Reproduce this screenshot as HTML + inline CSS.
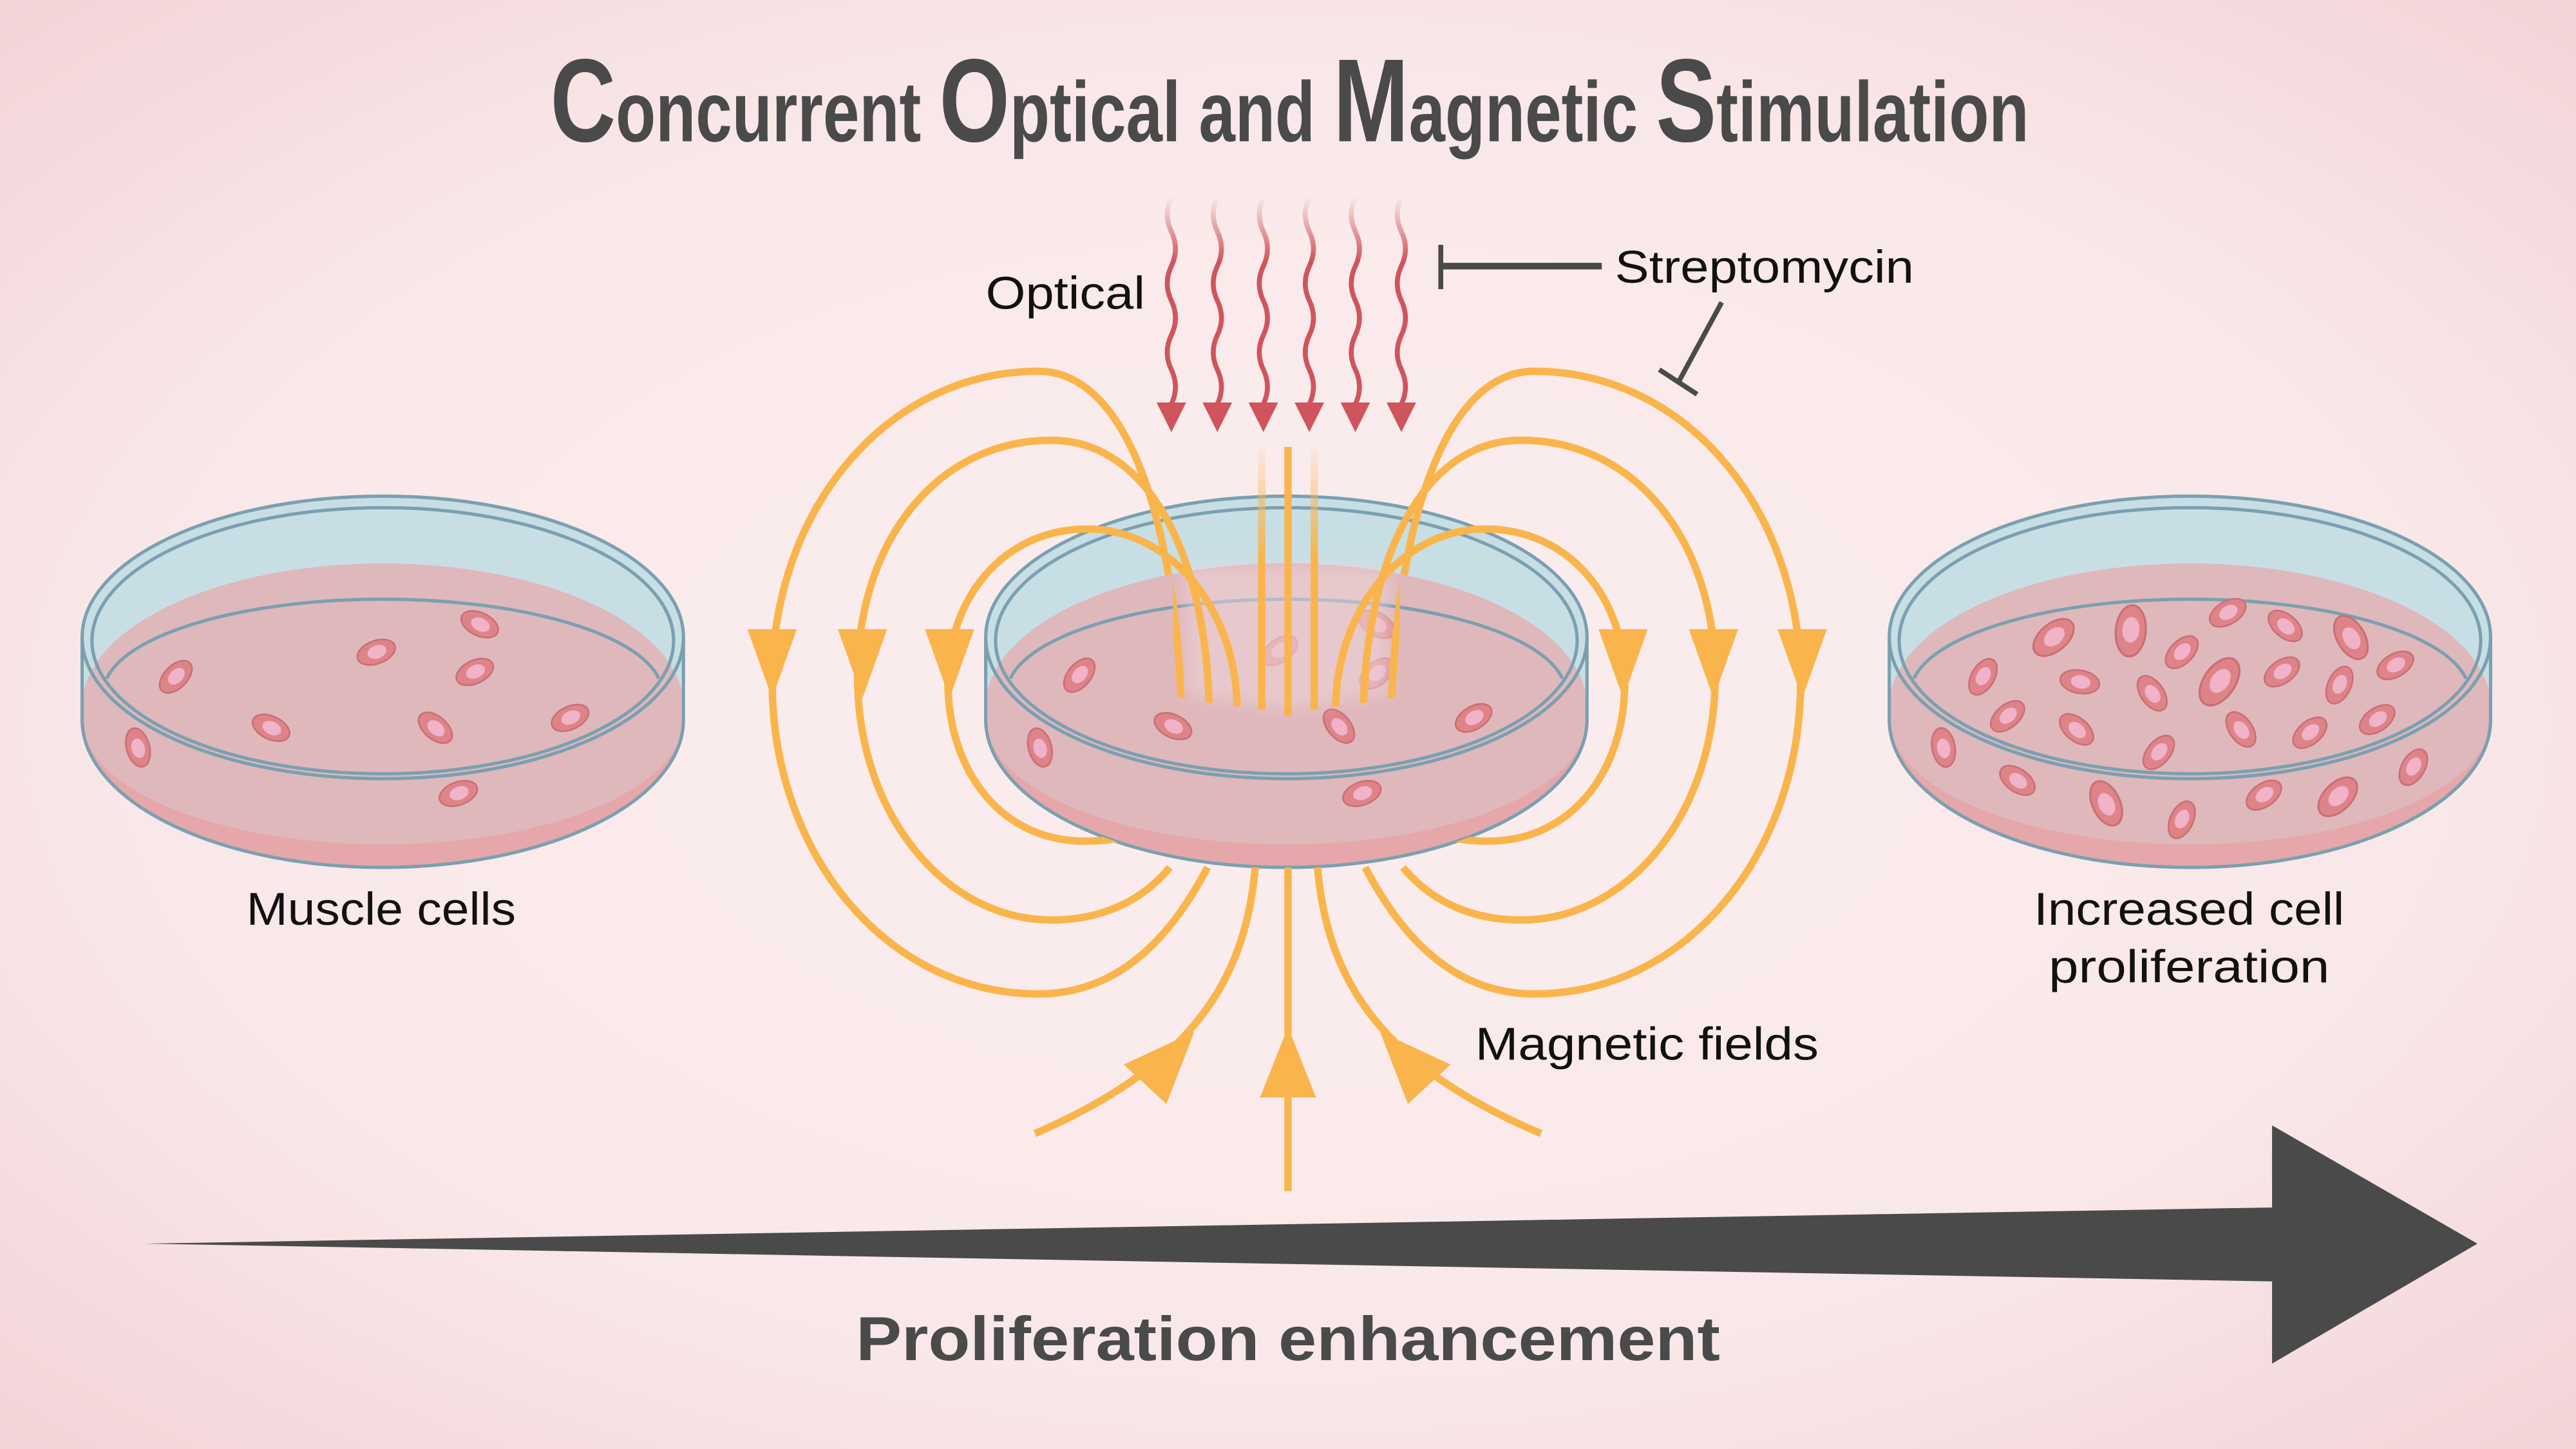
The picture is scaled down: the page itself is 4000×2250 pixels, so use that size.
<!DOCTYPE html>
<html><head><meta charset="utf-8"><style>html,body{margin:0;padding:0;}svg{display:block}</style></head>
<body>
<svg width="4000" height="2250" viewBox="0 0 1568 882" xmlns="http://www.w3.org/2000/svg" font-family="'Liberation Sans', 'DejaVu Sans', sans-serif">
<defs>
<radialGradient id="bg" cx="50%" cy="50%" r="75%">
<stop offset="0" stop-color="#fbeeee"/><stop offset="0.6" stop-color="#f9e8e9"/><stop offset="1" stop-color="#f1d0d4"/>
</radialGradient>
<linearGradient id="fade" gradientUnits="userSpaceOnUse" x1="0" y1="270" x2="0" y2="340">
<stop offset="0" stop-color="#f9b54c" stop-opacity="0"/><stop offset="1" stop-color="#f9b54c" stop-opacity="1"/>
</linearGradient>
<linearGradient id="rfade" x1="0" y1="0" x2="0" y2="1">
<stop offset="0" stop-color="#d0545c" stop-opacity="0"/><stop offset="0.3" stop-color="#d0545c" stop-opacity="1"/><stop offset="1" stop-color="#d0545c"/>
</linearGradient>
<filter id="blur"><feGaussianBlur stdDeviation="5"/></filter>
<g id="dish">
<path d="M-183,388 A183,86 0 0 1 183,388 L183,438 A183,90 0 0 1 -183,438 Z" fill="#c8dee5"/>
<path d="M-183,430 A183,87 0 0 1 183,430 L183,438 A183,90 0 0 1 -183,438 Z" fill="#e5a7aa"/>
<path d="M-183,430 A183,87 0 0 1 183,430 L183,438 A183,76 0 0 1 -183,438 Z" fill="#dfb8bc"/>
<ellipse cx="0" cy="388" rx="183" ry="86" fill="none" stroke="#7aa0b0" stroke-width="2"/>
<ellipse cx="0" cy="390" rx="177" ry="81" fill="none" stroke="#7aa0b0" stroke-width="2"/>
<path d="M-168,413 A170,57 0 0 1 168,413" fill="none" stroke="#7aa0b0" stroke-width="2"/>
<path d="M-183,388 L-183,438 A183,90 0 0 0 183,438 L183,388" fill="none" stroke="#7aa0b0" stroke-width="2"/>
</g>
<g id="cell"><ellipse rx="12" ry="7" fill="#de8488" stroke="#c96f75" stroke-width="1"/><ellipse cx="0.5" rx="6" ry="4" fill="#f0b3c8"/></g>
<mask id="m1" maskUnits="userSpaceOnUse" x="0" y="0" width="1568" height="882">
<rect x="0" y="0" width="1568" height="882" fill="white"/>
<path d="M600,430 A183,87 0 0 1 966,430 L966,438 A183,90 0 0 1 600,438 Z" fill="black"/>
<polygon points="714,300 852,300 852,424 783,436 714,424" fill="white"/>
</mask>
<g id="loopsL" fill="none" stroke="#f9b54c" stroke-width="4.5">
<path d="M719,430 C716,330 690,226 632,226 C540,226 470,310 470,415 C470,520 540,605 632,605 C680,605 712,572 735,528"/>
<path d="M736,430 C734,340 700,268 640,268 C570,268 522,330 522,412 C522,495 575,560 640,560 C675,560 698,545 712,528"/>
<path d="M753,430 C752,370 712,322 662,322 C610,322 577,365 577,415 C577,470 610,512 660,512 C675,512 685,510 695,505"/>
</g>
</defs>
<rect width="1568" height="882" fill="url(#bg)"/>

<text x="335" y="86" font-family="'Liberation Sans Narrow','Liberation Sans',sans-serif" font-weight="bold" fill="#4a4a4a" font-size="52" textLength="900" lengthAdjust="spacingAndGlyphs"><tspan font-size="72">C</tspan>oncurrent <tspan font-size="72">O</tspan>ptical and <tspan font-size="72">M</tspan>agnetic <tspan font-size="72">S</tspan>timulation</text>

<use href="#dish" transform="translate(233,0)"/>
<use href="#dish" transform="translate(783,0)"/>
<use href="#dish" transform="translate(1333,0)"/>

<use href="#cell" transform="translate(292,380) rotate(25)"/>
<use href="#cell" transform="translate(229,397) rotate(-20)"/>
<use href="#cell" transform="translate(107,412) rotate(-45)"/>
<use href="#cell" transform="translate(289,409) rotate(-25)"/>
<use href="#cell" transform="translate(165,443) rotate(25)"/>
<use href="#cell" transform="translate(265,443) rotate(40)"/>
<use href="#cell" transform="translate(347,437) rotate(-25)"/>
<use href="#cell" transform="translate(84,455) rotate(75)"/>
<use href="#cell" transform="translate(279,483) rotate(-20)"/>

<use href="#cell" transform="translate(657,411) rotate(-50)"/>
<use href="#cell" transform="translate(714,442) rotate(25)"/>
<use href="#cell" transform="translate(779,396) rotate(-35)" opacity="0.7"/>
<use href="#cell" transform="translate(838,380) rotate(30)" opacity="0.7"/>
<use href="#cell" transform="translate(838,410) rotate(-40)" opacity="0.7"/>
<use href="#cell" transform="translate(815,442) rotate(50)"/>
<use href="#cell" transform="translate(897,437) rotate(-30)"/>
<use href="#cell" transform="translate(633,455) rotate(75)"/>
<use href="#cell" transform="translate(829,483) rotate(-20)"/>
<g>
<use href="#cell" transform="translate(1250,388) rotate(-40) scale(1.2)"/>
<use href="#cell" transform="translate(1297,384) rotate(-85) scale(1.3)"/>
<use href="#cell" transform="translate(1356,373) rotate(-30)"/>
<use href="#cell" transform="translate(1391,381) rotate(40)"/>
<use href="#cell" transform="translate(1431,388) rotate(60) scale(1.2)"/>
<use href="#cell" transform="translate(1328,397) rotate(-45)"/>
<use href="#cell" transform="translate(1207,412) rotate(-60)"/>
<use href="#cell" transform="translate(1266,415) rotate(10)"/>
<use href="#cell" transform="translate(1310,422) rotate(55)"/>
<use href="#cell" transform="translate(1351,415) rotate(-55) scale(1.35)"/>
<use href="#cell" transform="translate(1389,409) rotate(-35)"/>
<use href="#cell" transform="translate(1424,417) rotate(-65)"/>
<use href="#cell" transform="translate(1458,405) rotate(-30)"/>
<use href="#cell" transform="translate(1222,436) rotate(-40)"/>
<use href="#cell" transform="translate(1264,444) rotate(40)"/>
<use href="#cell" transform="translate(1364,444) rotate(55)"/>
<use href="#cell" transform="translate(1406,446) rotate(-40)"/>
<use href="#cell" transform="translate(1447,438) rotate(-35)"/>
<use href="#cell" transform="translate(1183,455) rotate(80)"/>
<use href="#cell" transform="translate(1314,458) rotate(-50)"/>
<use href="#cell" transform="translate(1228,475) rotate(35)"/>
<use href="#cell" transform="translate(1282,489) rotate(65) scale(1.2)"/>
<use href="#cell" transform="translate(1328,499) rotate(-65)"/>
<use href="#cell" transform="translate(1378,484) rotate(-35)"/>
<use href="#cell" transform="translate(1423,485) rotate(-45) scale(1.2)"/>
<use href="#cell" transform="translate(1469,467) rotate(-60)"/>
</g>

<polygon points="722,345 845,345 845,422 783,432 722,422" fill="#efd9dc" opacity="0.5" filter="url(#blur)"/>

<g mask="url(#m1)">
<use href="#loopsL"/>
<use href="#loopsL" transform="translate(1566,0) scale(-1,1)"/>
<line x1="768" y1="270" x2="768" y2="432" stroke="url(#fade)" stroke-width="4.5"/>
<line x1="784" y1="272" x2="784" y2="436" stroke="#f9b54c" stroke-width="4.5"/>
<line x1="800" y1="270" x2="800" y2="432" stroke="url(#fade)" stroke-width="4.5"/>
</g>
<g fill="none" stroke="#f9b54c" stroke-width="4.5">
<line x1="784" y1="528" x2="784" y2="725"/>
<path d="M764,528 C758,600 722,650 630,690"/>
<path d="M802,528 C808,600 844,650 938,690"/>
</g>
<g fill="#f9b54c">
<polygon points="455,383 485,383 470,425"/>
<polygon points="510,383 540,383 525,425"/>
<polygon points="563,383 593,383 578,425"/>
<polygon points="973,383 1003,383 988,425"/>
<polygon points="1028,383 1058,383 1043,425"/>
<polygon points="1082,383 1112,383 1097,425"/>
<polygon points="784,625 767,668 801,668"/>
<polygon points="727,628 684,648 710,672"/>
<polygon points="840,628 883,648 857,672"/>
</g>

<g fill="none" stroke="url(#rfade)" stroke-width="3">
<path d="M713,120 q-5,10.5 0,21 t0,21 t0,21 t0,21 t0,21 t0,21 l0,4"/>
<path d="M741,120 q-5,10.5 0,21 t0,21 t0,21 t0,21 t0,21 t0,21 l0,4"/>
<path d="M769,120 q-5,10.5 0,21 t0,21 t0,21 t0,21 t0,21 t0,21 l0,4"/>
<path d="M797,120 q-5,10.5 0,21 t0,21 t0,21 t0,21 t0,21 t0,21 l0,4"/>
<path d="M825,120 q-5,10.5 0,21 t0,21 t0,21 t0,21 t0,21 t0,21 l0,4"/>
<path d="M853,120 q-5,10.5 0,21 t0,21 t0,21 t0,21 t0,21 t0,21 l0,4"/>
</g>
<g fill="#d0545c">
<polygon points="704,245 722,245 713,263"/>
<polygon points="732,245 750,245 741,263"/>
<polygon points="760,245 778,245 769,263"/>
<polygon points="788,245 806,245 797,263"/>
<polygon points="816,245 834,245 825,263"/>
<polygon points="844,245 862,245 853,263"/>
</g>

<g stroke="#4a4a4a" fill="none">
<line x1="877" y1="162" x2="975" y2="162" stroke-width="4"/>
<line x1="877" y1="149" x2="877" y2="176" stroke-width="3"/>
<line x1="1048" y1="184" x2="1022" y2="232" stroke-width="3"/>
<line x1="1010" y1="225" x2="1033" y2="240" stroke-width="3"/>
</g>

<g fill="#111" font-size="28">
<text x="600" y="188" textLength="97" lengthAdjust="spacingAndGlyphs">Optical</text>
<text x="983" y="172" textLength="182" lengthAdjust="spacingAndGlyphs">Streptomycin</text>
<text x="150" y="563" textLength="164" lengthAdjust="spacingAndGlyphs">Muscle cells</text>
<text x="1238" y="563" textLength="189" lengthAdjust="spacingAndGlyphs">Increased cell</text>
<text x="1247" y="598" textLength="171" lengthAdjust="spacingAndGlyphs">proliferation</text>
<text x="898" y="645" textLength="209" lengthAdjust="spacingAndGlyphs">Magnetic fields</text>
</g>

<polygon points="88,757 1383,735 1383,685 1508,757 1383,830 1383,780" fill="#4a4a4a"/>
<text x="784" y="828" text-anchor="middle" font-size="38" font-weight="bold" fill="#4a4a4a" textLength="526" lengthAdjust="spacingAndGlyphs">Proliferation enhancement</text>
</svg>
</body></html>
